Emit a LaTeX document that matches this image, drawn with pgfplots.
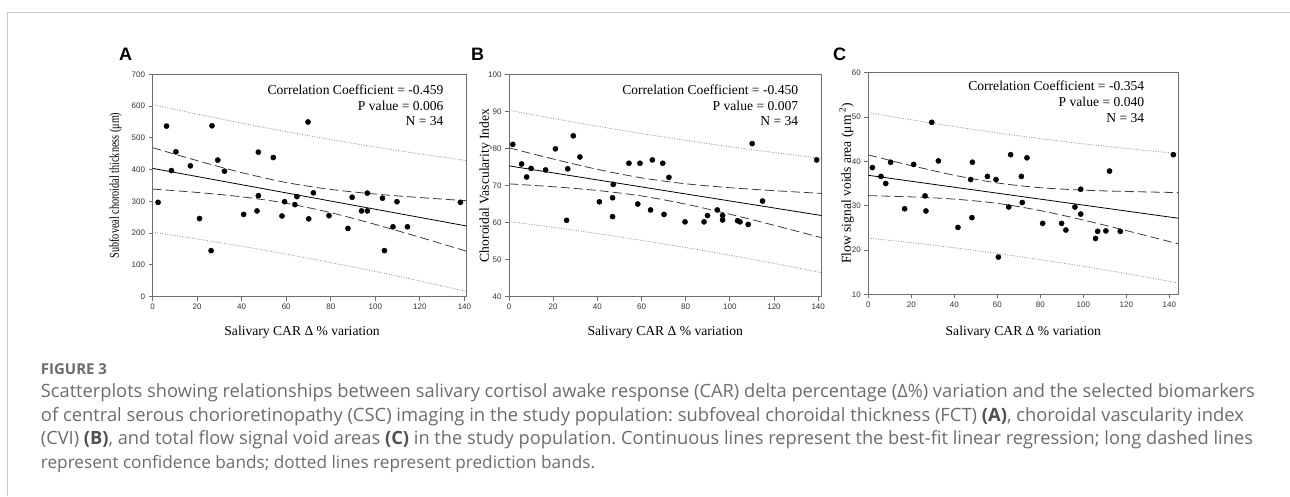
\documentclass[border=0pt]{standalone}
\usepackage{fontspec}
\setmainfont{Liberation Serif}
\setsansfont{Liberation Sans}
\newfontfamily\capfont{Open Sans}
\usepackage{graphicx}
\usepackage{pgfplots}
\pgfplotsset{compat=1.18}
\frenchspacing

\definecolor{axisgray}{RGB}{110,110,110}
\definecolor{capgray}{RGB}{108,108,108}
\definecolor{capdark}{RGB}{80,80,80}
\definecolor{dotgray}{RGB}{150,150,150}
\definecolor{dashgray}{RGB}{60,60,60}
\definecolor{framegray}{RGB}{200,200,200}

\pgfplotsset{
  panel/.style={
    scale only axis,
    anchor=south west,
    axis line style={axisgray, line width=0.9pt},
    tick style={axisgray, line width=0.9pt},
    major tick length=4pt,
    tick align=outside,
    tick pos=left,
    xmin=0,
    xtick={0,20,...,140},
    ticklabel style={font=\sffamily\fontsize{8}{9}\selectfont, text=black!80},
    /pgf/number format/assume math mode=true,
    label style={font=\rmfamily\fontsize{13.6}{16}\selectfont},
  },
  pts/.style={only marks, mark=*, mark size=2.6pt, mark options={fill=black, draw=black}},
  fitl/.style={black, line width=0.8pt, no marks},
  conf/.style={dashgray, line width=0.8pt, dash pattern=on 9pt off 4pt, no marks, smooth},
  pred/.style={dotgray, line width=0.8pt, dash pattern=on 1pt off 1.5pt, no marks, smooth},
}

\newcommand{\stat}{\rmfamily\fontsize{13.6}{16}\selectfont}

\begin{document}
\begin{tikzpicture}[x=1pt,y=1pt]
\path[use as bounding box] (0,0) rectangle (1290,496);
\draw[framegray, line width=1pt] (7.5,0) -- (7.5,483.7) -- (1290,483.7);

% ---- panel A ----
\begin{axis}[panel, at={(152.5pt,199.3pt)}, width=314.2pt, height=222.4pt,
  xmax=141, ymin=0, ymax=700, ytick={0,100,...,700},
  ylabel={\scalebox{0.75}[1]{Subfoveal choroidal thickness (μm)}},
  ylabel style={at={(axis description cs:-0.118,0.5)}, anchor=center},
  xlabel={Salivary CAR Δ \% variation},
  xlabel style={at={(axis description cs:0.476,0)}, anchor=base, yshift=-39pt}]
\addplot[pred] coordinates {(0,604.8)(20,574.8)(40,546.3)(60,519.6)(80,494.5)(100,471.2)(120,449.7)(141,428.5)};
\addplot[pred] coordinates {(0,203.2)(20,181.8)(40,158.7)(60,134.0)(80,107.5)(100,79.4)(120,49.5)(141,16.5)};
\addplot[conf] coordinates {(0,469.1)(20,428.4)(40,390.6)(60,359.4)(80,337.6)(100,323.1)(120,312.1)(141,302)};
\addplot[conf] coordinates {(0,338.9)(20,328.2)(40,314.4)(60,294.2)(80,264.4)(100,227.5)(120,187.1)(141,143)};
\addplot[fitl] coordinates {(0,404)(141,222.5)};
\addplot[pts] coordinates {(2.5,297)(6.3,537)(8.5,397)(10.5,456)(17.0,412)(21.1,246)(26.3,145)(26.7,538)(29.3,430)(32.3,395)(40.9,259)(46.9,270)(47.5,318)(47.5,455)(54.2,438)(58.1,254)(59.3,299)(63.9,290)(64.8,315)(70.1,245)(69.8,550)(72.2,327)(79.2,255)(87.7,215)(89.6,313)(93.8,270)(96.4,270)(96.4,326)(103.2,310)(104.1,145)(107.9,220)(109.7,299)(114.4,220)(138.2,297)};
\end{axis}

% ---- panel B ----
\begin{axis}[panel, at={(509pt,199.3pt)}, width=312.5pt, height=222.4pt,
  xmax=141.5, ymin=40, ymax=100, ytick={40,50,...,100},
  ylabel={Choroidal Vascularity Index},
  ylabel style={at={(axis description cs:-0.075,0.5)}, anchor=center},
  xlabel={Salivary CAR Δ \% variation},
  xlabel style={at={(axis description cs:0.5,0)}, anchor=base, yshift=-39pt}]
\addplot[pred] coordinates {(0,90.31)(20,88.10)(40,85.99)(60,84.03)(80,82.18)(100,80.47)(120,78.89)(141.5,77.30)};
\addplot[pred] coordinates {(0,60.29)(20,58.72)(40,57.03)(60,55.21)(80,53.26)(100,51.19)(120,48.99)(141.5,46.50)};
\addplot[conf] coordinates {(0,80.16)(20,77.15)(40,74.36)(60,72.06)(80,70.46)(100,69.41)(120,68.61)(141.5,67.87)};
\addplot[conf] coordinates {(0,70.44)(20,69.67)(40,68.66)(60,67.18)(80,64.98)(100,62.25)(120,59.27)(141.5,55.93)};
\addplot[fitl] coordinates {(0,75.3)(141.5,61.9)};
\addplot[pts] coordinates {(1.7,81.1)(5.7,75.8)(8.0,72.3)(10.0,74.6)(16.6,74.2)(21.0,79.9)(26.1,60.6)(26.6,74.5)(29.1,83.4)(32.1,77.7)(40.9,65.6)(46.9,66.7)(46.9,61.6)(47.2,70.3)(54.3,76.0)(58.3,65.0)(59.3,76.0)(64.1,63.4)(64.9,76.9)(69.6,76.0)(70.2,62.2)(72.4,72.2)(79.7,60.2)(88.3,60.2)(89.9,61.9)(94.3,63.4)(96.7,61.9)(96.7,60.7)(103.5,60.5)(104.6,60.2)(108.3,59.5)(110.1,81.3)(114.8,65.8)(139.3,76.9)};
\end{axis}

% ---- panel C ----
\begin{axis}[panel, at={(868.3pt,201.7pt)}, width=310pt, height=221.6pt,
  xmax=144.2, ymin=10, ymax=60, ytick={10,20,...,60},
  ylabel={Flow signal voids area (μm\,\textsuperscript{2})},
  ylabel style={at={(axis description cs:-0.070,0.5)}, anchor=center},
  xlabel={Salivary CAR Δ \% variation},
  xlabel style={at={(axis description cs:0.5,0)}, anchor=base, yshift=-40.7pt}]
\addplot[pred] coordinates {(0,51.01)(20,49.37)(40,47.84)(60,46.42)(80,45.12)(100,43.95)(120,42.90)(144.2,41.75)};
\addplot[pred] coordinates {(0,22.69)(20,21.65)(40,20.50)(60,19.22)(80,17.82)(100,16.31)(120,14.68)(144.2,12.57)};
\addplot[conf] coordinates {(0,41.44)(20,39.04)(40,36.86)(60,35.12)(80,34.05)(100,33.50)(120,33.20)(144.2,32.95)};
\addplot[conf] coordinates {(0,32.26)(20,31.98)(40,31.48)(60,30.52)(80,28.89)(100,26.76)(120,24.38)(144.2,21.38)};
\addplot[fitl] coordinates {(0,36.85)(144.2,27.16)};
\addplot[pts] coordinates {(1.9,38.6)(5.9,36.6)(8.1,35.0)(10.4,39.8)(16.9,29.3)(21.1,39.3)(26.4,32.2)(26.8,28.8)(29.5,48.8)(32.6,40.1)(41.7,25.1)(47.6,35.9)(48.2,27.3)(48.4,39.8)(55.4,36.6)(59.4,35.9)(60.5,18.4)(65.3,29.7)(66.2,41.5)(71.2,36.6)(71.6,30.7)(73.8,40.8)(81.1,26.0)(89.9,26.0)(91.9,24.5)(96.1,29.7)(98.8,33.7)(98.8,28.1)(105.7,22.6)(106.7,24.2)(110.5,24.3)(112.2,37.8)(117.2,24.2)(141.9,41.5)};
\end{axis}

% statistics
\node[anchor=base east, font=\stat] at (447,401) {Correlation Coefficient = -0.459};
\node[anchor=base east, font=\stat] at (447,385.3) {P value = 0.006};
\node[anchor=base east, font=\stat] at (447,370) {N = 34};
\node[anchor=base east, font=\stat] at (801.7,401) {Correlation Coefficient = -0.450};
\node[anchor=base east, font=\stat] at (801.7,385.3) {P value = 0.007};
\node[anchor=base east, font=\stat] at (801.7,370) {N = 34};
\node[anchor=base east, font=\stat] at (1147.7,405.3) {Correlation Coefficient = -0.354};
\node[anchor=base east, font=\stat] at (1147.7,389.3) {P value = 0.040};
\node[anchor=base east, font=\stat] at (1147.7,373.7) {N = 34};

% panel letters
\node[anchor=base, font=\sffamily\bfseries\fontsize{18}{18}\selectfont] at (125.5,435.5) {A};
\node[anchor=base, font=\sffamily\bfseries\fontsize{18}{18}\selectfont] at (477.5,435.5) {B};
\node[anchor=base, font=\sffamily\bfseries\fontsize{18}{18}\selectfont] at (839.5,435.5) {C};

% caption: each line squeezed to the measured width of the reference
\begin{scope}[every node/.style={anchor=base west, inner sep=0pt, text=capgray}]
\node[font=\capfont\bfseries\fontsize{15}{18}\selectfont] at (40.7,122) {FIGURE 3};
\node at (40.7,98.5) {\resizebox{1214pt}{!}{\capfont\fontsize{16}{20}\selectfont Scatterplots showing relationships between salivary cortisol awake response (CAR) delta percentage (Δ\%) variation and the selected biomarkers}};
\node at (40.7,75) {\resizebox{1203pt}{!}{\capfont\fontsize{16}{20}\selectfont of central serous chorioretinopathy (CSC) imaging in the study population: subfoveal choroidal thickness (FCT) \textcolor{capdark}{\bfseries (A)}, choroidal vascularity index}};
\node at (40.7,51.5) {\resizebox{1212pt}{!}{\capfont\fontsize{16}{20}\selectfont (CVI) \textcolor{capdark}{\bfseries (B)}, and total flow signal void areas \textcolor{capdark}{\bfseries (C)} in the study population. Continuous lines represent the best-fit linear regression; long dashed lines}};
\node[font=\capfont\fontsize{17.2}{20}\selectfont] at (40.7,28) {represent confidence bands; dotted lines represent prediction bands.};
\end{scope}
\end{tikzpicture}
\end{document}
